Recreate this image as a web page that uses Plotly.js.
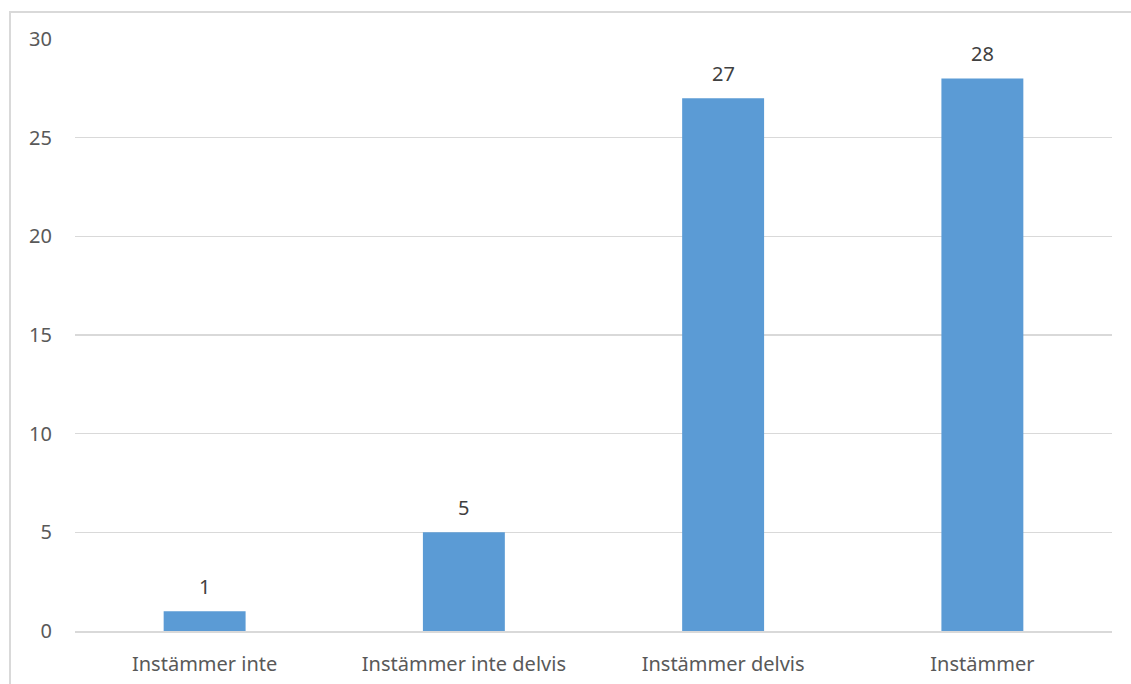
<!DOCTYPE html>
<html>
<head>
<meta charset="utf-8">
<script src="https://cdn.plot.ly/plotly-3.0.1.min.js"></script>
<style>
html,body{margin:0;padding:0;background:#fff;}
#frame{position:absolute;left:9px;top:11px;width:1200px;height:800px;border:2px solid #D9D9D9;box-sizing:border-box;}
#chart{position:absolute;left:0;top:0;width:1131px;height:684px;}
</style>
</head>
<body>
<div id="frame"></div>
<div id="chart"></div>
<script>
const categories = ["Instämmer inte", "Instämmer inte delvis", "Instämmer delvis", "Instämmer"];
const values = [1, 5, 27, 28];
const yTicks = [0, 5, 10, 15, 20, 25, 30];

const trace = {
  type: 'bar',
  x: categories,
  y: values,
  marker: {color: '#5B9BD5'},
  hoverinfo: 'skip'
};

const labels = categories.map((c, i) => ({
  x: c,
  y: values[i],
  xref: 'x',
  yref: 'y',
  text: String(values[i]),
  showarrow: false,
  yanchor: 'middle',
  yshift: 25,
  font: {family: 'Noto Sans, sans-serif', size: 20, color: '#404040'}
}));

const layout = {
  width: 1131,
  height: 684,
  margin: {l: 75, r: 19, t: 39, b: 53},
  paper_bgcolor: 'rgba(0,0,0,0)',
  plot_bgcolor: 'rgba(0,0,0,0)',
  bargap: 0.684,
  showlegend: false,
  font: {family: 'Noto Sans, sans-serif', size: 20, color: '#595959'},
  annotations: labels,
  xaxis: {
    type: 'category',
    showgrid: false,
    showline: true,
    linecolor: '#D9D9D9',
    linewidth: 2,
    ticks: '',
    ticklabelstandoff: 14,
    tickfont: {size: 20, color: '#595959'}
  },
  yaxis: {
    range: [0, 30],
    tickvals: yTicks,
    ticktext: yTicks.map(String),
    showgrid: true,
    gridcolor: '#D9D9D9',
    gridwidth: 1.5,
    zeroline: false,
    showline: false,
    ticks: '',
    ticklabelstandoff: 22,
    tickfont: {size: 20, color: '#595959'}
  }
};

Plotly.newPlot('chart', [trace], layout, {displayModeBar: false, staticPlot: true});
</script>
</body>
</html>
